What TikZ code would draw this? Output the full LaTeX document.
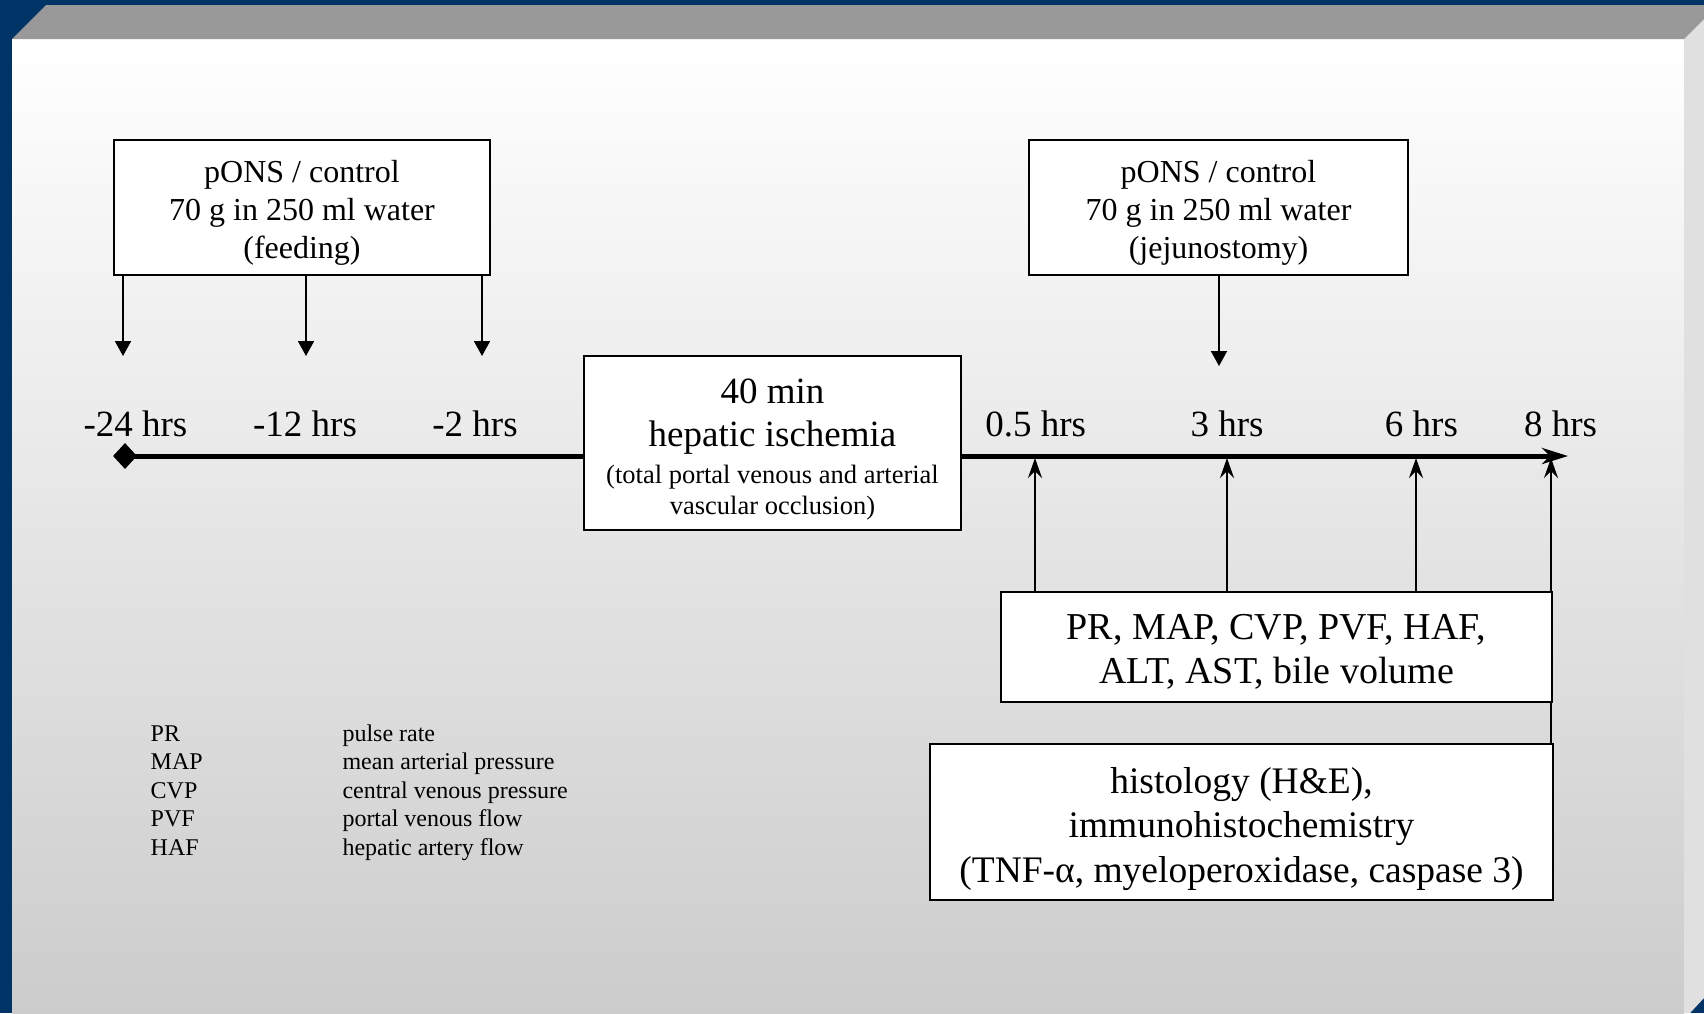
\documentclass[tikz,border=0pt]{standalone}
\usepackage{fontspec}
\setmainfont{Liberation Serif}
\usetikzlibrary{arrows.meta,shapes.geometric}
\definecolor{frameblue}{RGB}{0,51,102}
\definecolor{bevelgray}{RGB}{153,153,153}
\definecolor{sidegray}{RGB}{224,224,224}
\newcommand{\topstrut}[1]{\rule{0pt}{#1}}
\begin{document}
\begin{tikzpicture}[x=1pt,y=-1pt,
  box/.style={draw=black, line width=1.6pt, fill=white, inner sep=0pt, align=center},
  topbox/.style={box, minimum height=135pt, font=\fontsize{32}{38}\selectfont},
  bigbox/.style={box, font=\fontsize{37}{44}\selectfont},
  hrslabel/.style={anchor=base, inner sep=0pt, font=\fontsize{37}{44}\selectfont},
  legendtext/.style={anchor=base west, inner sep=0pt, font=\fontsize{24}{28}\selectfont},
  downarrow/.style={line width=1.8pt, -{Triangle[length=15pt,width=16pt]}},
  uparrow/.style={line width=1.8pt, -{Stealth[length=20pt,width=14pt,inset=7pt]}},
  timeline/.style={line width=5pt, -{Stealth[length=26pt,width=16pt,inset=8pt]}},
  plainline/.style={line width=1.8pt}
]
\useasboundingbox (0,0) rectangle (1704,1013);
% frame
\fill[frameblue] (0,0) rectangle (1704,1013);
\shade[top color=white, bottom color=black!20] (12,39) rectangle (1684,1013);
\fill[bevelgray] (12,39) -- (46,5) -- (1704,5) -- (1704,19) -- (1684,39) -- cycle;
\fill[sidegray] (1684,39) -- (1704,19) -- (1704,998) -- (1690,1013) -- (1684,1013) -- cycle;

% timeline
\node[diamond, fill=black, minimum width=24pt, minimum height=26pt, inner sep=0pt] (d24) at (125,456) {};
\coordinate (tend) at (1568,456);
\draw[timeline] (d24.center) -- (tend);

% labels
\node[hrslabel] (l24) at (135.5,436) {-24 hrs};
\node[hrslabel] (l12) at (305,436) {-12 hrs};
\node[hrslabel] (l2) at (475,436) {-2 hrs};
\node[hrslabel] (l05) at (1035.6,436) {0.5 hrs};
\node[hrslabel] (l3) at (1227,436) {3 hrs};
\node[hrslabel] (l6) at (1421.4,436) {6 hrs};
\node[hrslabel] (l8) at (1560.5,436) {8 hrs};

% top boxes
\node[topbox, minimum width=376pt] (feed) at (302,207.5) {\topstrut{32.7pt}pONS / control\\70 g in 250 ml water\\(feeding)};
\node[topbox, minimum width=379pt] (jej) at (1218.5,207.5) {\topstrut{32.7pt}pONS / control\\70 g in 250 ml water\\(jejunostomy)};

\coordinate (a24) at (123,356);
\coordinate (a12) at (306,356);
\coordinate (a2) at (482,356);
\coordinate (a3j) at (1219,366);
\draw[downarrow] (a24 |- feed.south) -- (a24);
\draw[downarrow] (a12 |- feed.south) -- (a12);
\draw[downarrow] (a2 |- feed.south) -- (a2);
\draw[downarrow] (a3j |- jej.south) -- (a3j);

% ischemia box
\node[box, minimum width=377pt, minimum height=174pt, font=\fontsize{37}{43}\selectfont] (isch) at (772.5,443)
  {\topstrut{37.3pt}40 min\\hepatic ischemia\\[-6.5pt]
   {\fontsize{26.5}{31}\selectfont (total portal venous and arterial}\\[-12pt]
   {\fontsize{26.5}{31}\selectfont vascular occlusion)}};

% measurement boxes
\node[bigbox, minimum width=551pt, minimum height=110pt, font=\fontsize{38}{44}\selectfont] (pr) at (1276.5,647) {\topstrut{35.6pt}PR, MAP, CVP, PVF, HAF,\\ALT, AST, bile volume};
\node[bigbox, minimum width=623pt, minimum height=156pt, font=\fontsize{37.5}{44.5}\selectfont] (hist) at (1241.5,822) {\topstrut{39.5pt}histology (H\&E),\\immunohistochemistry\\(TNF-α, myeloperoxidase, caspase 3)};

\coordinate (t05) at (1035,458);
\coordinate (t3) at (1227,458);
\coordinate (t6) at (1416,458);
\coordinate (t8) at (1551,458);
\draw[uparrow] (t05 |- pr.north) -- (t05);
\draw[uparrow] (t3 |- pr.north) -- (t3);
\draw[uparrow] (t6 |- pr.north) -- (t6);
\draw[uparrow] (t8 |- pr.north) -- (t8);
\draw[plainline] (t8 |- hist.north) -- (t8 |- pr.south);

% legend
\foreach \ab/\mean [count=\i from 0] in {PR/pulse rate, MAP/mean arterial pressure, CVP/central venous pressure, PVF/portal venous flow, HAF/hepatic artery flow} {
  \node[legendtext] (ab\i) at (150.5,{741+28.5*\i}) {\ab};
  \node[legendtext] (mn\i) at (342.3,{741+28.5*\i}) {\mean};
}
\end{tikzpicture}
\end{document}
